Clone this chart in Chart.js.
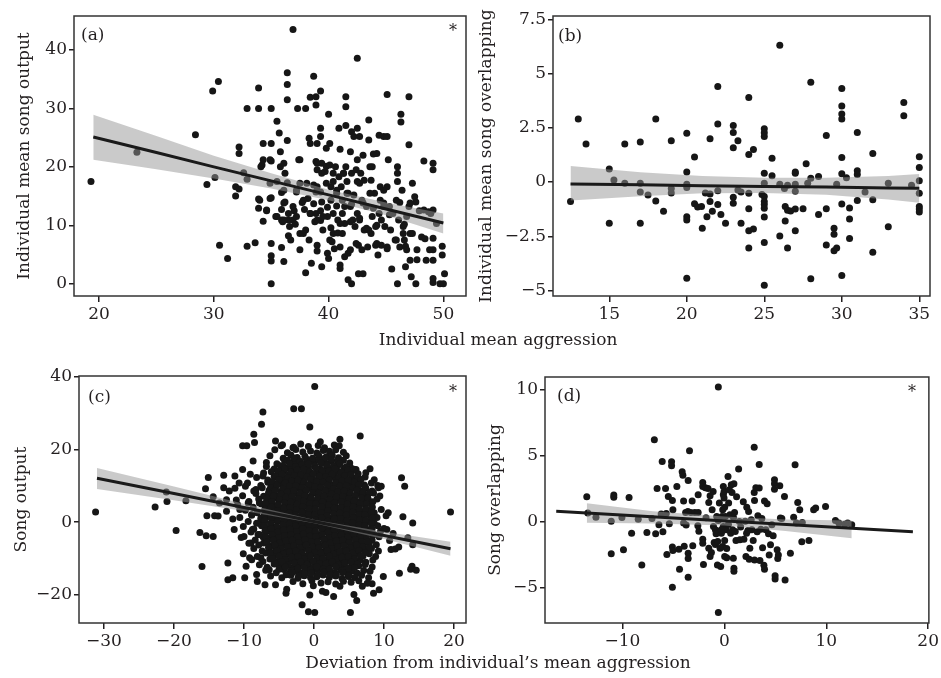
<!DOCTYPE html>
<html><head><meta charset="utf-8">
<script src="https://cdn.jsdelivr.net/npm/chart.js@4/dist/chart.umd.min.js"></script>
<style>
html,body{margin:0;padding:0;background:#fff;}
body{width:941px;height:678px;position:relative;overflow:hidden;font-family:"DejaVu Serif",serif;color:#231f20;}
.cv{position:absolute;}
.xt{position:absolute;font-size:17px;white-space:nowrap;transform:translateX(-50%);line-height:1;z-index:5;}
</style></head><body>
<canvas id="ca" class="cv" width="470" height="330" style="left:0;top:0;width:470px;height:330px"></canvas>
<canvas id="cb" class="cv" width="471" height="330" style="left:470px;top:0;width:471px;height:330px"></canvas>
<canvas id="cc" class="cv" width="470" height="315" style="left:0;top:340px;width:470px;height:315px"></canvas>
<canvas id="cd" class="cv" width="471" height="315" style="left:470px;top:340px;width:471px;height:315px"></canvas>
<div class="xt" style="left:498px;top:331px">Individual mean aggression</div>
<div class="xt" style="left:498px;top:654px">Deviation from individual’s mean aggression</div>
<script>
// ---------- Panel (a) ----------
const aPoints = [[19.3,17.5],[23.3,22.5],[28.4,25.5],[29.4,17],[29.9,33],[30.4,34.6],[30.1,18.2],[30.5,6.6],[31.2,4.3],[31.9,16.6],[31.9,15],[32.2,16.2],[32.2,23.4],[32.2,22.3],[32.6,19],[32.9,30],[32.9,17.9],[32.9,6.4],[33.6,7],[33.9,33.5],[33.9,30],[33.9,14.5],[33.9,12.9],[34.1,20],[34.3,24],[34.3,21.2],[34.3,10.7],[34.6,12.5],[35,30],[35,24],[35,21],[35,14.7],[35,6.9],[35,4.8],[35,3.9],[35,0],[35.5,27.8],[35.5,17.5],[35.4,11.5],[35.7,25.8],[35.8,22.6],[35.8,20],[35.9,15.6],[35.9,12.7],[35.9,10.9],[35.9,6.2],[36.1,3.8],[36.2,18.9],[36.2,14],[36,10.6],[36.4,36.1],[36.4,34.1],[36.4,31.5],[36.4,24.5],[36.4,17.3],[36.5,12],[36.5,10.9],[36.5,8.2],[36.7,7.5],[36.9,43.5],[36.9,10.9],[37,12.5],[37.1,10.2],[37.2,15.7],[37.3,30],[37.4,21.2],[37.5,17.2],[37.5,8.6],[37.5,5.8],[37.7,13.9],[37.9,12.7],[38,30],[38,9.2],[38,1.9],[38.2,14.6],[38.3,7.5],[38.3,24.9],[38.4,31.9],[38.4,24],[38.4,12],[38.5,3.5],[38.7,35.5],[38.7,16.9],[38.7,13.7],[38.8,10.6],[38.9,32],[38.9,30.6],[38.9,20.9],[39,24],[39,19.5],[38.9,15.7],[38.9,12],[39,6.6],[39,5.6],[39.3,33],[39.3,26.6],[39.3,25.2],[39.4,20.6],[39.4,18.9],[39.3,15.7],[39.4,14],[39.3,12.5],[39.3,10.8],[39.4,2.9],[39.5,9.2],[39.7,19.2],[39.8,23.2],[39.8,20.1],[39.9,13.1],[39.9,11.5],[39.9,5.2],[40,29],[40,4.3],[40.1,24],[40.2,16.6],[40.2,14.3],[40.2,9.6],[40.3,7.2],[40.4,18.9],[40.4,17.5],[40.4,8.6],[40.5,6],[40.6,20],[40.7,15.5],[40.7,13.3],[40.8,10.9],[40.8,8.7],[40.9,26.6],[40.9,18.3],[41,3.2],[41,2.6],[41,23],[41.1,16.6],[41.2,14.3],[41.2,12],[41.2,8.6],[41.3,18.9],[41.4,13.2],[41.4,10.3],[41.4,4.6],[41.5,32],[41.5,30.3],[41.5,27.1],[41.5,20],[41.6,17.5],[41.7,15.5],[41.7,5.2],[41.7,0.7],[41.9,13.2],[41.9,22.6],[42,26],[42,18.9],[42,0],[42.1,10.9],[42.2,25.2],[42.2,15.2],[42.3,9.8],[42.5,38.6],[42.5,17.5],[42.5,26.6],[42.5,21.2],[42.5,12],[42.6,6.6],[42.6,1.7],[42.7,10.9],[42.7,25.2],[42.8,18.9],[42.9,14.3],[42.9,5.8],[43,22],[43,1.7],[43.1,17.7],[43.1,9.2],[43.3,13.2],[43.4,6.3],[43.5,28],[43.5,24.6],[43.5,9.2],[43.7,17.7],[43.7,8.6],[43.8,20],[43.8,11.5],[43.9,22.2],[44,15.5],[44.1,6.6],[44.1,9.8],[44.2,22.3],[44.3,4.9],[44.4,25.4],[44.4,12],[44.5,16.6],[44.5,14.3],[44.6,10.9],[44.6,6.6],[44.8,25.2],[44.8,13.2],[44.9,9.8],[45.1,32.4],[45.1,25.2],[45.1,16.6],[45.1,6],[45.2,21.2],[45.3,13.2],[45.4,9.2],[45.5,2.5],[45.6,12],[45.8,7.5],[46,0],[46,20],[46,18.9],[46,17.5],[46.1,10.9],[46.2,6.3],[46.2,13.9],[46.3,29],[46.3,27.7],[46.4,16],[46.5,9.8],[46.5,8.6],[46.6,7.5],[46.7,6.4],[46.7,2.9],[46.8,11.5],[47,32],[47,23.8],[47,13.2],[47.1,4],[47.2,1.2],[47.3,17.2],[47.3,8.6],[47.5,14.9],[47.6,14],[47.6,0],[47.7,5.8],[47.9,12.5],[48.1,8],[48.3,21],[48.4,7.7],[48.5,4],[48.7,12.3],[48.9,12],[49.1,20.6],[49.1,19.5],[49.1,12.6],[49.1,7.8],[49.1,5.8],[49.1,4],[49.1,0.9],[49.1,0.2],[49.4,10.3],[49.7,0],[49.9,6.4],[49.9,4.9],[50,0],[50.1,1.7],
[34.2,20.3],[34.9,21.2],[36.1,20.6],[37.5,21.2],[39,20.6],[40.1,20.3],[41.3,18.9],[42.4,19.5],[43.6,20],[34,14.3],[34.9,14.6],[36.1,13.8],[36.9,13.2],[37.8,14.3],[38.4,12],[39,10.9],[39.5,11.5],[40.4,12],[41,10.3],[41.9,10.6],[42.7,11.2],[43.3,9.5],[44.2,10],[45.3,11.8],[46.6,10.2],[47.1,8.6],[36.1,10.9],[36.6,9.8],[37.2,11.5],[37.8,8.6],[40.1,7.5],[41,6.3],[41.9,5.8],[42.4,6.9],[44.2,6.9],[45.1,6.3],[45.9,7.5],[46.8,5.8],[47.7,4.1],[48.8,5.8],[39,16.6],[39.8,17.2],[40.7,16],[41.6,15.5],[42.7,17.2],[43.6,15.5],[44.8,16],[45.9,14.3],[47.1,13.8],[48.3,12.6],[42,13.6],[43,13.8],[43.9,12.9],[44.8,13.8],[37.2,16],[38.1,17.2],[34.9,17.2],[36.1,16],[35.5,11.5],[34.6,12.6]];
const aBandX = [19.5, 25, 30, 35, 40, 45, 50];
const aFit   = [25.1, 22.45, 20.0, 17.6, 15.2, 12.8, 10.4];
const aUpper = [28.9, 25.3, 21.9, 18.9, 16.1, 13.9, 12.0];
const aLower = [21.2, 19.6, 18.0, 16.3, 14.3, 11.7, 8.6];
const aXTicks = [20, 30, 40, 50];
const aXLabels = ['20', '30', '40', '50'];
const aYTicks = [0, 10, 20, 30, 40];
const aYLabels = ['0', '10', '20', '30', '40'];

// ---------- Panel (b) ----------
const bPoints = [[12.5,-0.9],[13,2.9],[13.5,1.75],[15,0.6],[15,-1.9],[15.3,0.1],[16,1.75],[16,-0.06],[17,1.85],[17,-0.05],[17,-0.46],[17,-1.9],[17.5,-0.6],[18,2.9],[18,-0.87],[18.5,-1.35],[19,1.9],[19,-0.3],[19,-0.5],[20,2.25],[20,0.46],[20,-0.1],[20,-0.25],[20,-1.6],[20,-1.75],[20,-4.43],[20.5,1.15],[20.5,-1.0],[20.7,-1.15],[20.95,-1.13],[21,-2.13],[21.2,-0.5],[21.3,-1.6],[21.5,2.0],[21.5,-0.55],[21.5,-0.9],[21.65,-1.35],[22,4.4],[22,2.67],[22,-0.4],[22,-1.03],[22.2,-1.5],[22.5,-1.9],[23,2.6],[23,2.28],[23,1.58],[23,-0.7],[23,-0.98],[23.3,1.9],[23.3,-0.37],[23.5,-0.46],[23.5,-1.9],[24,3.9],[24,1.27],[24,-0.52],[24,-1.23],[24,-2.24],[24,-3.04],[24.3,1.5],[24.3,-2.16],[25,2.45],[25,2.27],[25,2.1],[25,0.4],[25,-0.05],[24.85,-0.57],[25,-0.67],[25,-0.9],[25,-1.04],[25,-1.21],[25,-1.61],[25,-2.78],[25,-4.75],[25.5,1.1],[25.5,0.29],[26,6.3],[26,-0.1],[26,-2.48],[26.3,-0.3],[26.35,-1.13],[26.35,-1.8],[26.5,-0.15],[26.5,-1.3],[26.5,-3.04],[26.7,-1.33],[27,0.46],[27,0.4],[27,-0.1],[27,-0.42],[27,-1.24],[27,-2.24],[27.5,-1.23],[27.7,0.84],[27.8,-0.05],[28,4.6],[28,0.18],[28,-4.45],[28.5,0.26],[28.5,-1.5],[29,2.15],[29,-1.23],[29,-2.9],[29.5,-2.13],[29.5,-2.4],[29.5,-3.16],[29.67,-3.04],[29.67,-0.1],[30,4.31],[30,3.5],[30,3.14],[30,2.9],[30,1.13],[30,0.38],[30,-1.01],[30,-4.31],[30.3,0.2],[30.5,-1.2],[30.5,-1.7],[30.5,-2.6],[31,2.28],[31,0.52],[31,0.35],[31,-0.85],[31.5,-0.46],[32,1.32],[32,-0.81],[32,-3.24],[33,-0.06],[33,-2.06],[34,3.67],[34,3.05],[34.5,-0.15],[35,1.17],[35,0.67],[35,0.06],[35,-0.52],[35,-1.13],[35,-1.24],[35,-1.38]];
const bBandX = [12.5, 17, 21, 25, 29, 33, 35];
const bFit   = [-0.09, -0.13, -0.17, -0.2, -0.23, -0.27, -0.29];
const bUpper = [0.74, 0.45, 0.28, 0.2, 0.2, 0.28, 0.37];
const bLower = [-0.85, -0.65, -0.52, -0.5, -0.58, -0.8, -0.95];
const bXTicks = [15, 20, 25, 30, 35];
const bXLabels = ['15', '20', '25', '30', '35'];
const bYTicks = [-5, -2.5, 0, 2.5, 5, 7.5];
const bYLabels = ['\u22125', '\u22122.5', '0', '2.5', '5', '7.5'];

// ---------- Panel (c) ----------
const cOuter = [[-31.2,2.8],[-22.7,4.2],[-21.1,8.3],[-21,5.7],[-19.7,-2.3],[-18.3,5.9],[-16.3,-2.8],[-16,-12.2],[-15.5,9.2],[-15.3,1.8],[-15.1,12.3],[-15.4,-3.7],[-14.4,-3.9],[-14.4,7],[-14.2,1.8],[-13.7,1.7],[-13.5,5.3],[-12.9,12.9],[-12.9,9.5],[-12.5,3],[-12.3,-11.2],[-12.1,8.6],[-12.3,-15.8],[-11.6,-15.3],[-11.3,12.7],[-11.6,0.9],[-11.4,-2],[-11.1,6.1],[-10.7,10.8],[-10.6,3.5],[-10.2,14.5],[-10.2,21],[-10,-3.9],[-9.9,-15.3],[-9.8,9.9],[-9.6,21],[-9.4,5.3],[-9.2,-9.8],[-9.7,-12.1],[-9,-5.7],[-8.9,2.1],[-8.8,-2],[-8.7,16.8],[-8.6,24.2],[-8.5,21.9],[-8.3,9],[-8.2,-14.4],[-8.1,-16.3],[-8,-3.4],[-7.9,-0.2],[-7.8,5.3],[-7.6,-9.8],[-7.5,26.9],[-7.3,30.3],[-7.3,12.7],[-7.2,-5.7],[-7,-17.2],[-6.8,16.4],[-6.8,2.6],[-6.4,-13.1],[-6.1,10.8],[-6,-2],[-5.5,22.3],[-5.5,-17.2],[-5.1,7.2],[-5,-7.5],[-4.8,-11.2],[-4.7,21],[-4,-19.5],[-3.9,-18.4],[-3.5,-14.4],[-3,20.5],[-2.9,31.2],[-1.8,31.2],[-1.7,-22.7],[-0.6,26.2],[-0.6,-20],[-0.8,-24.6],[0.1,37.3],[0.1,-24.8],[-0.1,-17.5],[0.9,22.1],[1.2,-19],[1.7,-19.3],[2.8,-20.4],[3.7,22.8],[3.7,-17.6],[5.2,-24.8],[5.7,-19.9],[6.1,-21.5],[6.6,23.7],[6.9,-17.6],[8,14.7],[8.3,-16.9],[8.5,-19.5],[9.3,-18.6],[9.4,7.2],[9.6,9.9],[9.9,-14.9],[10.3,1.8],[10.6,2.6],[10.4,-2],[10.8,-5],[11,-7.5],[11.3,-3.1],[11.6,-7.4],[12.1,-6.8],[12.2,-14],[12.5,12.2],[12.7,1.5],[12.95,9.9],[13.4,-4.3],[13.8,-12.9],[14,-12.1],[14.1,-0.2],[14.1,-6.2],[14.6,-13.2],[19.5,2.8]];
const cCore = [[-4.5,21.3],[-2.9,20.6],[-1.9,21.5],[-0.8,20.8],[0.6,21.1],[1.5,20.5],[2.9,21.2],[3.6,21],
[-5.6,19.9],[-3.8,19.1],[-2.6,20],[-1.6,19.3],[-0.5,19.6],[0.4,19],[1.3,19.7],[2.2,19.5],[3.1,19.9],[4.2,19.2],
[-6.3,18.3],[-4.4,17.6],[-3.3,18.5],[-2.4,17.8],[-1.3,18.1],[-0.2,17.5],[0.7,18.2],[1.8,18],[2.6,18.4],[3.5,17.7],[4.6,18.3],
[-5.3,16.1],[-4.2,17],[-3.4,16.3],[-2.6,16.6],[-1.8,16],[-0.9,16.7],[0,16.5],[0.9,16.9],[1.7,16.2],[2.5,16.8],[3.4,16.1],[4.2,17],[5.1,16.3],
[-6.8,15.3],[-5.7,14.6],[-4.8,15.5],[-4,14.8],[-3.2,15.1],[-2.4,14.5],[-1.6,15.2],[-0.8,15],[0.1,15.4],[0.9,14.7],[1.8,15.3],[2.6,14.6],[3.4,15.5],[4.3,14.8],[5.2,15.1],[6,14.5],
[-9.1,13.2],[-7.2,13.5],[-6.1,13.9],[-5.2,13.2],[-4.4,13.8],[-3.6,13.1],[-2.8,14],[-2,13.3],[-1.2,13.6],[-0.4,13],[0.4,13.7],[1.2,13.5],[2,13.9],[2.9,13.2],[3.7,13.8],[4.5,13.1],[5.4,14],[6.3,13.3],[7.4,13.6],
[-8.2,12.3],[-6.6,11.6],[-5.7,12.5],[-4.9,11.8],[-4.1,12.1],[-3.3,11.5],[-2.5,12.2],[-1.7,12],[-0.9,12.4],[-0.1,11.7],[0.7,12.3],[1.5,11.6],[2.3,12.5],[3.1,11.8],[3.9,12.1],[4.7,11.5],[5.5,12.2],[6.4,12],[7.3,12.4],[8.6,11.7],
[-9.5,10.8],[-7.6,10.1],[-6.6,11],[-5.6,10.3],[-4.8,10.6],[-4,10],[-3.2,10.7],[-2.4,10.5],[-1.6,10.9],[-0.8,10.2],[0,10.8],[0.8,10.1],[1.6,11],[2.4,10.3],[3.2,10.6],[4,10],[4.8,10.7],[5.6,10.5],[6.4,10.9],[7.2,10.2],[8.2,10.8],[9.1,10.1],
[-11.3,9.3],[-8.6,8.6],[-7.4,9.5],[-6.4,8.8],[-5.5,9.1],[-4.7,8.5],[-3.9,9.2],[-3.1,9],[-2.3,9.4],[-1.5,8.7],[-0.7,9.3],[0.1,8.6],[0.9,9.5],[1.7,8.8],[2.5,9.1],[3.3,8.5],[4.1,9.2],[4.9,9],[5.7,9.4],[6.5,8.7],[7.4,9.3],[8.3,8.6],[9.2,9.5],
[-10.2,7.3],[-8.3,7.9],[-7.2,7.1],[-6.2,7.6],[-5.3,7],[-4.5,7.7],[-3.7,7.5],[-2.9,7.9],[-2.1,7.2],[-1.3,7.8],[-0.5,7.1],[0.3,8],[1.1,7.3],[1.9,7.6],[2.7,7],[3.5,7.7],[4.3,7.5],[5.1,7.9],[5.9,7.2],[6.7,7.8],[7.6,7.1],[8.5,8],
[-12.5,6.2],[-9.3,5.7],[-7.9,6.4],[-6.8,5.6],[-5.9,6.3],[-5,6],[-4.2,6.5],[-3.4,5.8],[-2.6,6.1],[-1.8,5.5],[-1,6.2],[-0.2,5.7],[0.6,6.4],[1.4,5.6],[2.2,6.3],[3,6],[3.8,6.5],[4.6,5.8],[5.4,6.1],[6.2,5.5],[7,6.2],[7.9,5.7],[9,6.4],
[-10.9,4.8],[-8.7,4.1],[-7.5,5],[-6.5,4.3],[-5.6,4.6],[-4.8,4],[-4,4.7],[-3.2,4.5],[-2.4,4.9],[-1.6,4.2],[-0.8,4.8],[0,4.1],[0.8,5],[1.6,4.3],[2.4,4.6],[3.2,4],[4,4.7],[4.8,4.5],[5.6,4.9],[6.4,4.2],[7.3,4.8],[8.3,4.1],
[-9.8,3.3],[-8.1,2.6],[-7,3.5],[-6.1,2.8],[-5.3,3.1],[-4.5,2.5],[-3.7,3.2],[-2.9,3],[-2.1,3.4],[-1.3,2.7],[-0.5,3.3],[0.3,2.6],[1.1,3.5],[1.9,2.8],[2.7,3.1],[3.5,2.5],[4.3,3.2],[5.1,3],[5.9,3.4],[6.7,2.7],[7.5,3.3],[8.6,2.6],[9.6,3.5],
[-10.6,1.3],[-8.9,1.9],[-7.6,1.1],[-6.6,1.6],[-5.7,1],[-4.9,1.7],[-4.1,1.5],[-3.3,1.9],[-2.5,1.2],[-1.7,1.8],[-0.9,1.1],[-0.1,2],[0.7,1.3],[1.5,1.6],[2.3,1],[3.1,1.7],[3.9,1.5],[4.7,1.9],[5.5,1.2],[6.3,1.8],[7.1,1.1],[8,2],[9,1.3],
[-9.4,0.2],[-8.2,-0.3],[-7.1,0.4],[-6.2,-0.4],[-5.3,0.3],[-4.5,0],[-3.7,0.5],[-2.9,-0.2],[-2.1,0.1],[-1.3,-0.5],[-0.5,0.2],[0.3,-0.3],[1.1,0.4],[1.9,-0.4],[2.7,0.3],[3.5,0],[4.3,0.5],[5.1,-0.2],[5.9,0.1],[6.7,-0.5],[7.6,0.2],[8.6,-0.3],
[-10.1,-1.2],[-8.6,-1.9],[-7.5,-1],[-6.5,-1.7],[-5.6,-1.4],[-4.8,-2],[-4,-1.3],[-3.2,-1.5],[-2.4,-1.1],[-1.6,-1.8],[-0.8,-1.2],[0,-1.9],[0.8,-1],[1.6,-1.7],[2.4,-1.4],[3.2,-2],[4,-1.3],[4.8,-1.5],[5.6,-1.1],[6.4,-1.8],[7.2,-1.2],[8.1,-1.9],[9.1,-1],[10,-1.7],
[-9,-2.7],[-7.8,-3.4],[-6.8,-2.5],[-5.9,-3.2],[-5.1,-2.9],[-4.3,-3.5],[-3.5,-2.8],[-2.7,-3],[-1.9,-2.6],[-1.1,-3.3],[-0.3,-2.7],[0.5,-3.4],[1.3,-2.5],[2.1,-3.2],[2.9,-2.9],[3.7,-3.5],[4.5,-2.8],[5.3,-3],[6.1,-2.6],[6.9,-3.3],[7.7,-2.7],[8.6,-3.4],[9.5,-2.5],
[-10.4,-4.2],[-8.4,-4.9],[-7.3,-4],[-6.3,-4.7],[-5.4,-4.4],[-4.6,-5],[-3.8,-4.3],[-3,-4.5],[-2.2,-4.1],[-1.4,-4.8],[-0.6,-4.2],[0.2,-4.9],[1,-4],[1.8,-4.7],[2.6,-4.4],[3.4,-5],[4.2,-4.3],[5,-4.5],[5.8,-4.1],[6.6,-4.8],[7.4,-4.2],[8.3,-4.9],[9.3,-4],
[-9.3,-5.8],[-7.9,-6.3],[-6.8,-5.6],[-5.9,-6.4],[-5,-5.7],[-4.2,-6.2],[-3.4,-6],[-2.6,-5.5],[-1.8,-6.1],[-1,-5.8],[-0.2,-6.5],[0.6,-5.9],[1.4,-6.2],[2.2,-5.6],[3,-6.3],[3.8,-6],[4.6,-5.5],[5.4,-6.1],[6.2,-5.8],[7,-6.5],[7.9,-5.9],[8.9,-6.2],
[-8.6,-7.2],[-7.4,-7.9],[-6.4,-7],[-5.5,-7.7],[-4.7,-7.4],[-3.9,-8],[-3.1,-7.3],[-2.3,-7.5],[-1.5,-7.1],[-0.7,-7.8],[0.1,-7.2],[0.9,-7.9],[1.7,-7],[2.5,-7.7],[3.3,-7.4],[4.1,-8],[4.9,-7.3],[5.7,-7.5],[6.5,-7.1],[7.3,-7.8],[8.2,-7.2],[9.2,-7.9],
[-10.1,-8.7],[-8.1,-9.4],[-6.9,-8.5],[-5.9,-9.2],[-5,-8.9],[-4.2,-9.5],[-3.4,-8.8],[-2.6,-9],[-1.8,-8.6],[-1,-9.3],[-0.2,-8.7],[0.6,-9.4],[1.4,-8.5],[2.2,-9.2],[3,-8.9],[3.8,-9.5],[4.6,-8.8],[5.4,-9],[6.2,-8.6],[7,-9.3],[7.9,-8.7],[8.8,-9.4],
[-8.9,-10.3],[-7.3,-10.8],[-6.3,-10.1],[-5.4,-10.9],[-4.6,-10.2],[-3.8,-10.7],[-3,-10.5],[-2.2,-10],[-1.4,-10.6],[-0.6,-10.3],[0.2,-11],[1,-10.4],[1.8,-10.7],[2.6,-10.1],[3.4,-10.8],[4.2,-10.5],[5,-10],[5.8,-10.6],[6.6,-10.3],[7.4,-11],[8.4,-10.4],
[-7.8,-11.7],[-6.7,-12.4],[-5.7,-11.5],[-4.8,-12.2],[-4,-11.9],[-3.2,-12.5],[-2.4,-11.8],[-1.6,-12],[-0.8,-11.6],[0,-12.3],[0.8,-11.7],[1.6,-12.4],[2.4,-11.5],[3.2,-12.2],[4,-11.9],[4.8,-12.5],[5.6,-11.8],[6.4,-12],[7.3,-11.6],[8.3,-12.3],
[-6.9,-13.2],[-5.4,-13.9],[-4.3,-13],[-3.4,-13.7],[-2.6,-13.4],[-1.8,-14],[-1,-13.3],[-0.2,-13.5],[0.6,-13.1],[1.4,-13.8],[2.2,-13.2],[3,-13.9],[3.8,-13],[4.6,-13.7],[5.4,-13.4],[6.2,-14],[7.1,-13.3],[8,-13.5],
[-6.2,-14.8],[-4.6,-15.3],[-3.3,-14.6],[-2.3,-15.4],[-1.4,-14.7],[-0.5,-15.2],[0.4,-15],[1.3,-14.5],[2.2,-15.1],[3.1,-14.8],[4,-15.5],[4.9,-14.9],[5.8,-15.2],[6.8,-14.6],[7.8,-15.3],
[-3,-16.3],[-1.6,-16.9],[-0.3,-16.1],[1,-16.7],[2,-16.4],[3.1,-17],[4.2,-16.2],[5.3,-16.5],[6.4,-16.1],[7.6,-16.8]];
const cCoreDense = [[-3.8,17.05],[-2.9,17.65],[-2,16.75],[-1.1,17.35],[-0.2,17.55],[0.7,16.95],[1.6,17.75],[2.5,17.15],[3.4,17.05],
[-4.4,15.55],[-3.5,16.15],[-2.6,15.25],[-1.7,15.85],[-0.8,16.05],[0.1,15.45],[1,16.25],[1.9,15.65],[2.8,15.55],[3.7,16.15],[4.6,15.25],
[-5.1,14.05],[-4.2,14.65],[-3.3,13.75],[-2.4,14.35],[-1.5,14.55],[-0.6,13.95],[0.3,14.75],[1.2,14.15],[2.1,14.05],[3,14.65],[3.9,13.75],[4.8,14.35],[5.7,14.55],
[-5.5,12.55],[-4.6,13.15],[-3.7,12.25],[-2.8,12.85],[-1.9,13.05],[-1,12.45],[-0.1,13.25],[0.8,12.65],[1.7,12.55],[2.6,13.15],[3.5,12.25],[4.4,12.85],[5.3,13.05],[6.2,12.45],
[-5.9,11.05],[-5,11.65],[-4.1,10.75],[-3.2,11.35],[-2.3,11.55],[-1.4,10.95],[-0.5,11.75],[0.4,11.15],[1.3,11.05],[2.2,11.65],[3.1,10.75],[4,11.35],[4.9,11.55],[5.8,10.95],[6.7,11.75],
[-6.2,9.55],[-5.3,10.15],[-4.4,9.25],[-3.5,9.85],[-2.6,10.05],[-1.7,9.45],[-0.8,10.25],[0.1,9.65],[1,9.55],[1.9,10.15],[2.8,9.25],[3.7,9.85],[4.6,10.05],[5.5,9.45],[6.4,10.25],[7.3,9.65],
[-6.5,8.05],[-5.6,8.65],[-4.7,7.75],[-3.8,8.35],[-2.9,8.55],[-2,7.95],[-1.1,8.75],[-0.2,8.15],[0.7,8.05],[1.6,8.65],[2.5,7.75],[3.4,8.35],[4.3,8.55],[5.2,7.95],[6.1,8.75],[7,8.15],[7.9,8.05],
[-6.7,6.55],[-5.8,7.15],[-4.9,6.25],[-4,6.85],[-3.1,7.05],[-2.2,6.45],[-1.3,7.25],[-0.4,6.65],[0.5,6.55],[1.4,7.15],[2.3,6.25],[3.2,6.85],[4.1,7.05],[5,6.45],[5.9,7.25],[6.8,6.65],[7.7,6.55],
[-6.9,5.05],[-6,5.65],[-5.1,4.75],[-4.2,5.35],[-3.3,5.55],[-2.4,4.95],[-1.5,5.75],[-0.6,5.15],[0.3,5.05],[1.2,5.65],[2.1,4.75],[3,5.35],[3.9,5.55],[4.8,4.95],[5.7,5.75],[6.6,5.15],[7.5,5.05],[8.4,5.65],
[-7,3.55],[-6.1,4.15],[-5.2,3.25],[-4.3,3.85],[-3.4,4.05],[-2.5,3.45],[-1.6,4.25],[-0.7,3.65],[0.2,3.55],[1.1,4.15],[2,3.25],[2.9,3.85],[3.8,4.05],[4.7,3.45],[5.6,4.25],[6.5,3.65],[7.4,3.55],[8.3,4.15],
[-7.1,2.05],[-6.2,2.65],[-5.3,1.75],[-4.4,2.35],[-3.5,2.55],[-2.6,1.95],[-1.7,2.75],[-0.8,2.15],[0.1,2.05],[1,2.65],[1.9,1.75],[2.8,2.35],[3.7,2.55],[4.6,1.95],[5.5,2.75],[6.4,2.15],[7.3,2.05],[8.2,2.65],
[-7,0.55],[-6.1,1.15],[-5.2,0.25],[-4.3,0.85],[-3.4,1.05],[-2.5,0.45],[-1.6,1.25],[-0.7,0.65],[0.2,0.55],[1.1,1.15],[2,0.25],[2.9,0.85],[3.8,1.05],[4.7,0.45],[5.6,1.25],[6.5,0.65],[7.4,0.55],[8.3,1.15],
[-7.1,-0.95],[-6.2,-0.35],[-5.3,-1.25],[-4.4,-0.65],[-3.5,-0.45],[-2.6,-1.05],[-1.7,-0.25],[-0.8,-0.85],[0.1,-0.95],[1,-0.35],[1.9,-1.25],[2.8,-0.65],[3.7,-0.45],[4.6,-1.05],[5.5,-0.25],[6.4,-0.85],[7.3,-0.95],[8.2,-0.35],
[-7,-2.45],[-6.1,-1.85],[-5.2,-2.75],[-4.3,-2.15],[-3.4,-1.95],[-2.5,-2.55],[-1.6,-1.75],[-0.7,-2.35],[0.2,-2.45],[1.1,-1.85],[2,-2.75],[2.9,-2.15],[3.8,-1.95],[4.7,-2.55],[5.6,-1.75],[6.5,-2.35],[7.4,-2.45],[8.3,-1.85],
[-6.9,-3.95],[-6,-3.35],[-5.1,-4.25],[-4.2,-3.65],[-3.3,-3.45],[-2.4,-4.05],[-1.5,-3.25],[-0.6,-3.85],[0.3,-3.95],[1.2,-3.35],[2.1,-4.25],[3,-3.65],[3.9,-3.45],[4.8,-4.05],[5.7,-3.25],[6.6,-3.85],[7.5,-3.95],[8.4,-3.35],
[-6.7,-5.45],[-5.8,-4.85],[-4.9,-5.75],[-4,-5.15],[-3.1,-4.95],[-2.2,-5.55],[-1.3,-4.75],[-0.4,-5.35],[0.5,-5.45],[1.4,-4.85],[2.3,-5.75],[3.2,-5.15],[4.1,-4.95],[5,-5.55],[5.9,-4.75],[6.8,-5.35],[7.7,-5.45],
[-6.5,-6.95],[-5.6,-6.35],[-4.7,-7.25],[-3.8,-6.65],[-2.9,-6.45],[-2,-7.05],[-1.1,-6.25],[-0.2,-6.85],[0.7,-6.95],[1.6,-6.35],[2.5,-7.25],[3.4,-6.65],[4.3,-6.45],[5.2,-7.05],[6.1,-6.25],[7,-6.85],[7.9,-6.95],
[-6.2,-8.45],[-5.3,-7.85],[-4.4,-8.75],[-3.5,-8.15],[-2.6,-7.95],[-1.7,-8.55],[-0.8,-7.75],[0.1,-8.35],[1,-8.45],[1.9,-7.85],[2.8,-8.75],[3.7,-8.15],[4.6,-7.95],[5.5,-8.55],[6.4,-7.75],[7.3,-8.35],
[-5.9,-9.95],[-5,-9.35],[-4.1,-10.25],[-3.2,-9.65],[-2.3,-9.45],[-1.4,-10.05],[-0.5,-9.25],[0.4,-9.85],[1.3,-9.95],[2.2,-9.35],[3.1,-10.25],[4,-9.65],[4.9,-9.45],[5.8,-10.05],[6.7,-9.25],
[-5.5,-11.45],[-4.6,-10.85],[-3.7,-11.75],[-2.8,-11.15],[-1.9,-10.95],[-1,-11.55],[-0.1,-10.75],[0.8,-11.35],[1.7,-11.45],[2.6,-10.85],[3.5,-11.75],[4.4,-11.15],[5.3,-10.95],[6.2,-11.55],
[-5,-12.95],[-4.1,-12.35],[-3.2,-13.25],[-2.3,-12.65],[-1.4,-12.45],[-0.5,-13.05],[0.4,-12.25],[1.3,-12.85],[2.2,-12.95],[3.1,-12.35],[4,-13.25],[4.9,-12.65],[5.8,-12.45],
[-4,-14.45],[-3.1,-13.85],[-2.2,-14.75],[-1.3,-14.15],[-0.4,-13.95],[0.5,-14.55],[1.4,-13.75],[2.3,-14.35],[3.2,-14.45],[4.1,-13.85],[5,-14.75]];
const cBandX = [-31, -20, -10, 0, 10, 19.5];
const cFit   = [12.1, 7.9, 4.05, 0.2, -3.65, -7.3];
const cUpper = [14.9, 9.8, 5.05, 0.7, -2.65, -5.35];
const cLower = [9.1, 6.0, 3.05, -0.3, -4.65, -9.25];
const cXTicks = [-30, -20, -10, 0, 10, 20];
const cXLabels = ['\u221230', '\u221220', '\u221210', '0', '10', '20'];
const cYTicks = [-20, 0, 20, 40];
const cYLabels = ['\u221220', '0', '20', '40'];

// ---------- Panel (d) ----------
const dPoints = [[-13.5,1.9],[-13.4,0.66],[-12.6,0.35],[-11.1,0.05],[-11.1,-2.43],[-10.85,2.03],[-10.85,1.87],[-10.05,0.33],[-9.9,-2.13],[-9.35,1.85],[-9.1,-0.86],[-8.45,0.2],[-8.1,-3.27],[-7.6,-0.81],[-7.1,0.25],[-6.87,6.23],[-6.74,-0.91],[-6.6,2.53],[-6.42,-0.23],[-6.2,0.6],[-6.1,4.58],[-6.03,-0.76],[-5.77,2.53],[-5.7,0.63],[-5.64,-2.48],[-5.5,1.92],[-5.4,-0.15],[-5.18,4.56],[-5.18,4.25],[-5.1,1.62],[-5.05,0.91],[-5.1,-1.92],[-5.05,-2.18],[-5.1,-4.96],[-4.66,2.68],[-4.46,-2.08],[-4.4,-3.6],[-4.14,3.8],[-4.07,3.54],[-4,1.57],[-4,-0.1],[-3.94,-1.85],[-3.8,0.71],[-3.75,-0.25],[-3.58,0.78],[-3.55,3.14],[-3.55,-2.38],[-3.55,-2.78],[-3.55,-4.2],[-3.42,5.39],[-3.29,0.71],[-3.16,1.57],[-3.1,-1.82],[-2.9,0.71],[-2.57,2.05],[-2.57,0.71],[-2.5,-0.71],[-2.12,2.99],[-2.12,2.68],[-2.12,-1.32],[-2.12,-1.62],[-2.05,-3.24],[-1.86,2.58],[-1.6,2.53],[-1.53,1.47],[-1.53,-2.0],[-1.4,1.97],[-1.4,-2.63],[-1.27,-2.33],[-1.2,0.91],[-1.07,-0.35],[-1,-1.57],[-0.88,-0.61],[-0.88,-1.72],[-0.81,-0.91],[-0.75,0.41],[-0.68,-3.27],[-0.65,-1.49],[-0.59,10.23],[-0.59,-6.89],[-0.49,1.42],[-0.42,-2],[-0.36,-3.39],[-0.29,-0.86],[-0.23,0.41],[-0.16,0.91],[-0.16,-1.87],[-0.1,-0.35],[-0.1,2.68],[-0.1,2.05],[-0.03,2.28],[-0.03,1.8],[0.03,1.11],[0.03,-1.42],[0.03,-2.63],[0.1,0.41],[0.16,-0.61],[0.23,-2.03],[0.23,-2.73],[0.36,3.44],[0.42,1.42],[0.49,2.43],[0.55,0.53],[0.62,-0.86],[0.68,2.81],[0.75,2.23],[0.81,-0.61],[0.88,-2.76],[0.94,2.89],[0.94,-3.52],[0.94,-3.75],[1,0.71],[1.07,-0.73],[1.14,-1.42],[1.4,4],[1.47,0.03],[1.53,-1.37],[1.86,1.52],[1.92,-1.32],[2.05,0.05],[2.12,-2.63],[2.18,-0.86],[2.31,-0.66],[2.38,0.78],[2.44,-2.84],[2.5,-2],[2.64,0.15],[2.7,-0.61],[2.83,-1.42],[2.93,5.65],[2.93,2.23],[2.96,1.62],[2.96,-2.89],[3.09,2.58],[3.22,-0.76],[3.29,0.46],[3.42,4.35],[3.42,2.56],[3.49,-2.94],[3.58,-0.56],[3.68,0.25],[3.75,-1.97],[3.88,-3.29],[3.94,1.57],[3.94,-3.6],[4.07,-0.61],[4.2,1.37],[4.33,-0.91],[4.4,-2.51],[4.53,-1.75],[4.66,-0.23],[4.79,-1.06],[4.92,3.19],[4.92,2.89],[4.92,2.48],[4.98,-4.1],[4.98,-4.35],[5.18,-2.13],[5.24,-2.78],[5.3,-2.51],[5.44,2.73],[5.5,0.28],[5.64,0.25],[5.9,1.92],[5.96,-4.41],[6.48,-2.38],[6.8,0.35],[6.94,4.33],[7.07,-0.1],[7.2,1.47],[7.4,0.91],[7.6,-1.52],[7.65,-0.05],[8.3,-1.42],[8.76,0.91],[8.96,1.04],[9.93,1.16],[10.9,0.1],[11.24,-0.1],[11.8,-0.18],[12.1,-0.1],[12.5,-0.23],
[-0.6,0.1],[0.4,-0.2],[-1.8,0.3],[1.6,-0.4],[-2.6,-0.3],[0.9,0.3],[-0.3,-0.6],[1.2,1.9],[-1.1,2.3],[2.2,1.1]];
const dLineX = [-16.5, 18.5];
const dLineY = [0.8, -0.75];
const dBandX = [-13.5, -7, 0, 6, 12.5];
const dUpper = [1.4, 0.8, 0.4, 0.18, 0.1];
const dLower = [-0.08, -0.12, -0.28, -0.7, -1.24];
const dXTicks = [-10, 0, 10, 20];
const dXLabels = ['\u221210', '0', '10', '20'];
const dYTicks = [-5, 0, 5, 10];
const dYLabels = ['\u22125', '0', '5', '10'];

// ---------- drawing ----------
const INK = '#231f20';
const FONT = 'DejaVu Serif';
const zip = (xs, ys) => xs.map((x, i) => ({x: x, y: ys[i]}));
const pts = arr => arr.map(p => ({x: p[0], y: p[1]}));

const panelDeco = {
  id: 'panelDeco',
  afterDraw(chart, args, o) {
    const ctx = chart.ctx, a = chart.chartArea;
    ctx.save();
    ctx.strokeStyle = '#333';
    ctx.lineWidth = 1.5;
    ctx.strokeRect(a.left, a.top, a.right - a.left, a.bottom - a.top);
    ctx.fillStyle = INK;
    ctx.font = '17px "' + FONT + '"';
    ctx.textAlign = 'left';
    ctx.textBaseline = 'alphabetic';
    ctx.fillText(o.tag, a.left + o.dx, a.top + o.dy);
    if (o.star) {
      ctx.font = '16px "' + FONT + '"';
      ctx.textAlign = 'center';
      ctx.fillText('*', a.right - o.sx, a.top + o.sy);
    }
    ctx.restore();
  }
};

function panel(id, c) {
  const datasets = [
    {data: c.fit, showLine: true, borderColor: '#1a1a1a', borderWidth: 3, pointRadius: 0, order: 0},
    {data: c.upper, showLine: true, borderColor: 'rgba(0,0,0,0)', borderWidth: 1, pointRadius: 0,
     fill: '+1', backgroundColor: 'rgba(150,150,150,0.5)', order: 1},
    {data: c.lower, showLine: true, borderColor: 'rgba(0,0,0,0)', borderWidth: 1, pointRadius: 0, fill: false, order: 2},
    {data: c.points, pointRadius: 3.5, pointBackgroundColor: '#161616', backgroundColor: '#161616', borderWidth: 0, pointBorderWidth: 0, order: 3}
  ];
  const tickFont = {family: FONT, size: 17};
  new Chart(document.getElementById(id), {
    type: 'scatter',
    data: {datasets: datasets},
    plugins: [panelDeco],
    options: {
      responsive: false, animation: false, events: [],
      layout: {padding: c.pad},
      plugins: {
        legend: {display: false}, tooltip: {enabled: false},
        filler: {drawTime: 'beforeDatasetDraw'},
        panelDeco: c.deco
      },
      scales: {
        x: {
          type: 'linear', position: 'bottom', min: c.xMin, max: c.xMax, bounds: 'data',
          afterBuildTicks: s => { s.ticks = c.xTicks.map(v => ({value: v})); },
          afterFit: s => { s.height = c.xH; },
          grid: {display: true, drawOnChartArea: false, drawTicks: true, tickLength: 6, color: INK, lineWidth: 1.5},
          border: {display: false},
          ticks: {color: INK, font: tickFont, padding: 2, maxRotation: 0, autoSkip: false,
                  callback: (v, i) => c.xLabels[i]}
        },
        y: {
          type: 'linear', position: 'left', min: c.yMin, max: c.yMax, bounds: 'data',
          afterBuildTicks: s => { s.ticks = c.yTicks.map(v => ({value: v})); },
          afterFit: s => { s.width = c.yW; },
          grid: {display: true, drawOnChartArea: false, drawTicks: true, tickLength: 5, color: INK, lineWidth: 1.5},
          border: {display: false},
          ticks: {color: INK, font: tickFont, padding: 2, autoSkip: false,
                  callback: (v, i) => c.yLabels[i]},
          title: {display: true, text: c.yTitle, color: INK, font: {family: FONT, size: 17},
                  padding: {top: c.yTitlePad, bottom: 0}}
        }
      }
    }
  });
}

panel('ca', {
  points: pts(aPoints), fit: zip(aBandX, aFit), upper: zip(aBandX, aUpper), lower: zip(aBandX, aLower),
  xMin: 17.82, xMax: 51.97, yMin: -2.1, yMax: 45.82,
  xTicks: aXTicks, xLabels: aXLabels, yTicks: aYTicks, yLabels: aYLabels,
  pad: {top: 16, right: 4, left: 0, bottom: 0}, yW: 74, xH: 34,
  yTitle: 'Individual mean song output', yTitlePad: 14,
  deco: {tag: '(a)', dx: 7, dy: 23.5, star: true, sx: 13, sy: 20}
});
panel('cb', {
  points: pts(bPoints), fit: zip(bBandX, bFit), upper: zip(bBandX, bUpper), lower: zip(bBandX, bLower),
  xMin: 11.37, xMax: 35.69, yMin: -5.25, yMax: 7.65,
  xTicks: bXTicks, xLabels: bXLabels, yTicks: bYTicks, yLabels: bYLabels,
  pad: {top: 16, right: 11, left: 0, bottom: 0}, yW: 83, xH: 34,
  yTitle: 'Individual mean song overlapping', yTitlePad: 6,
  deco: {tag: '(b)', dx: 5, dy: 24.5, star: false}
});
panel('cc', {
  points: pts(cOuter.concat(cCore, cCoreDense)), fit: zip(cBandX, cFit), upper: zip(cBandX, cUpper), lower: zip(cBandX, cLower),
  xMin: -33.57, xMax: 21.71, yMin: -27.71, yMax: 40.19,
  xTicks: cXTicks, xLabels: cXLabels, yTicks: cYTicks, yLabels: cYLabels,
  pad: {top: 36, right: 4, left: 0, bottom: 0}, yW: 79, xH: 32,
  yTitle: 'Song output', yTitlePad: 11,
  deco: {tag: '(c)', dx: 9, dy: 25.5, star: true, sx: 13, sy: 21}
});
panel('cd', {
  points: pts(dPoints), fit: zip(dLineX, dLineY), upper: zip(dBandX, dUpper), lower: zip(dBandX, dLower),
  xMin: -17.6, xMax: 20.07, yMin: -7.68, yMax: 10.99,
  xTicks: dXTicks, xLabels: dXLabels, yTicks: dYTicks, yLabels: dYLabels,
  pad: {top: 37, right: 11, left: 0, bottom: 0}, yW: 75, xH: 32,
  yTitle: 'Song overlapping', yTitlePad: 15,
  deco: {tag: '(d)', dx: 12, dy: 24, star: true, sx: 17, sy: 20}
});
</script>
</body></html>
